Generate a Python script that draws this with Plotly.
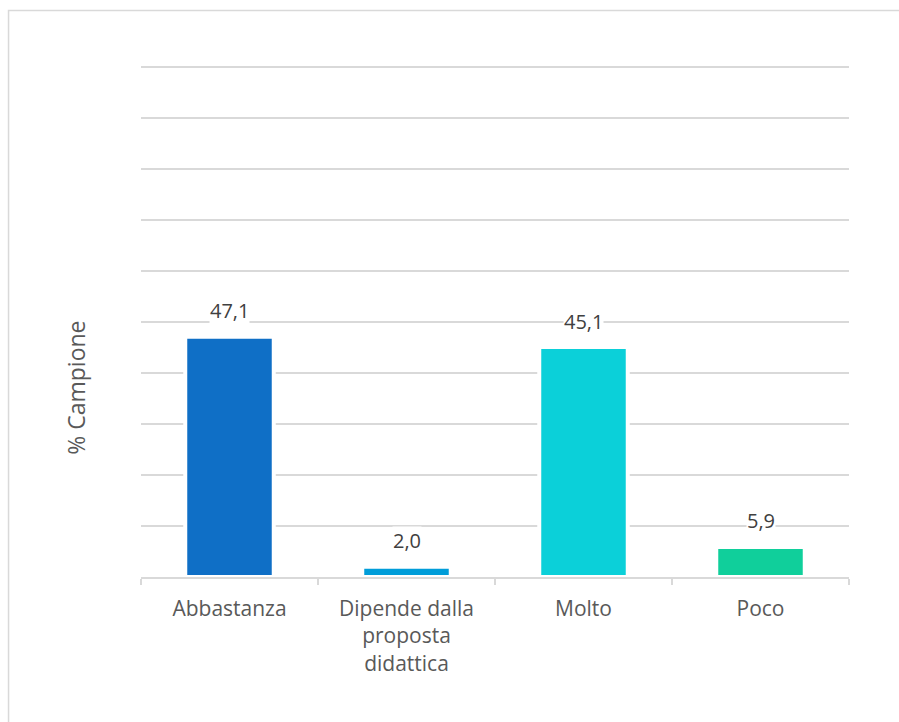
import plotly.graph_objects as go

# Risposte e percentuali del campione
categorie = ["Abbastanza", "Dipende dalla<br>proposta<br>didattica", "Molto", "Poco"]
percentuali = [47.1, 2.0, 45.1, 5.9]
etichette = ["47,1", "2,0", "45,1", "5,9"]
colori = ["#0F6FC6", "#009DD9", "#0BD0D9", "#10CF9B"]

FONT = "Open Sans"

fig = go.Figure()
fig.add_trace(go.Bar(
    x=categorie,
    y=percentuali,
    marker=dict(color=colori, line=dict(color="white", width=4)),
    width=0.5,
    hoverinfo="x+y",
    showlegend=False,
))

# Etichette dei valori con sfondo bianco sopra le barre
for cat, val, txt in zip(categorie, percentuali, etichette):
    fig.add_annotation(
        x=cat, y=val, text=txt, showarrow=False,
        yanchor="middle", yshift=26,
        font=dict(family=FONT, size=20, color="#404040"),
        bgcolor="white", borderpad=0,
    )

# Titolo asse verticale
fig.add_annotation(
    xref="paper", yref="paper", x=-0.092, y=0.37,
    text="% Campione", textangle=-90, showarrow=False,
    xanchor="center", yanchor="middle",
    font=dict(family=FONT, size=23, color="#595959"),
)

# Bordo dell'area del grafico
fig.add_shape(
    type="rect", xref="paper", yref="paper",
    x0=-0.1871, y0=-0.32, x1=1.23, y1=1.1088,
    line=dict(color="#d9d9d9", width=1.5),
    fillcolor="rgba(0,0,0,0)", layer="below",
)

fig.update_layout(
    width=899, height=722,
    margin=dict(l=141, r=50, t=66, b=145),
    paper_bgcolor="white", plot_bgcolor="white",
    font=dict(family=FONT, size=20, color="#595959"),
    bargap=0.5,
    xaxis=dict(
        showline=True, linecolor="#d9d9d9", linewidth=1.5,
        ticks="outside", tickson="boundaries", ticklen=6,
        tickcolor="#d9d9d9", tickwidth=1.5,
        ticklabelstandoff=12,
        tickfont=dict(family=FONT, size=21, color="#595959"),
        showgrid=False, fixedrange=True,
    ),
    yaxis=dict(
        range=[0, 100.2], dtick=10, showticklabels=False,
        showgrid=True, gridcolor="#d9d9d9", gridwidth=1.5,
        zeroline=False, showline=False, fixedrange=True,
    ),
)

fig.write_html("out.html")
